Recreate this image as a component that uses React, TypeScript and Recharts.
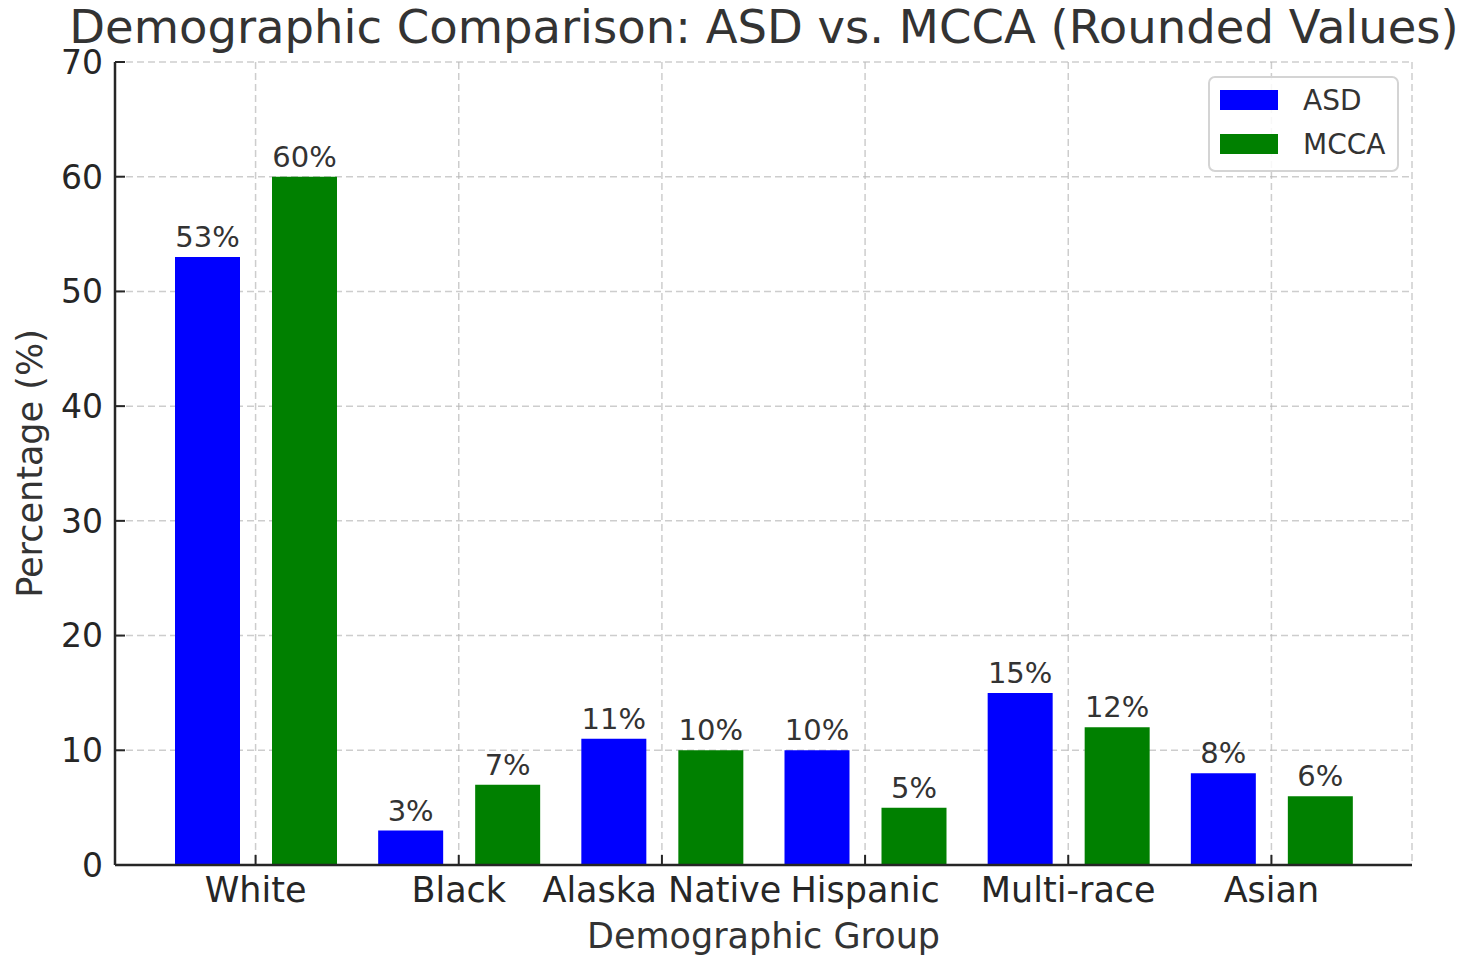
import { Bar, BarChart, CartesianGrid, LabelList, XAxis, YAxis } from "recharts";

const groups = ["White", "Black", "Alaska Native", "Hispanic", "Multi-race", "Asian"];
const asdValues = [53, 3, 11, 10, 15, 8];
const mccaValues = [60, 7, 10, 5, 12, 6];
const yTicks = [0, 10, 20, 30, 40, 50, 60, 70];

const data = groups.map((group, i) => ({ group, ASD: asdValues[i], MCCA: mccaValues[i] }));

const FONT = "'DejaVu Sans', sans-serif";
const TEXT = "#333333";
const AXIS = "#262626";
const Y_TICK_FONT = 33;
const X_TICK_FONT = 35;
const LABEL_FONT = 35;

function YTick(props: any) {
  const { x, y, payload } = props;
  return (
    <g>
      <line x1={x + 12} x2={x + 22} y1={y} y2={y} stroke={AXIS} strokeWidth={2} />
      <text x={x} y={y} dy={Y_TICK_FONT * 0.36} textAnchor="end" fill={AXIS} fontSize={Y_TICK_FONT} fontFamily={FONT}>
        {payload.value}
      </text>
    </g>
  );
}

function XTick(props: any) {
  const { x, y, payload } = props;
  return (
    <g>
      <line x1={x} x2={x} y1={y - 10} y2={y - 20} stroke={AXIS} strokeWidth={2} />
      <text x={x} y={y} dy={X_TICK_FONT * 0.78} textAnchor="middle" fill={AXIS} fontSize={X_TICK_FONT} fontFamily={FONT}>
        {payload.value}
      </text>
    </g>
  );
}

function LegendBox() {
  const items = [
    { label: "ASD", color: "#0000ff" },
    { label: "MCCA", color: "#008000" },
  ];
  return (
    <div
      style={{
        position: "absolute",
        left: 1208,
        top: 76,
        boxSizing: "border-box",
        width: 191,
        height: 96,
        border: "2px solid #d4d4d4",
        borderRadius: 7,
        background: "rgba(255,255,255,0.85)",
        padding: "0 0 0 10px",
      }}
    >
      {items.map((item) => (
        <div key={item.label} style={{ display: "flex", alignItems: "center", height: 44 }}>
          <span style={{ width: 58, height: 20, background: item.color, marginRight: 25 }} />
          <span style={{ fontFamily: FONT, fontSize: 28, color: TEXT }}>{item.label}</span>
        </div>
      ))}
    </div>
  );
}

export default function App() {
  return (
    <div style={{ position: "absolute", left: 0, top: 0, width: 1463, height: 956, background: "#fff" }}>
      <BarChart
        width={1463}
        height={956}
        data={data}
        margin={{ top: 62, right: 51, left: 0, bottom: 0 }}
        barSize={65}
        barGap={32}
      >
        <XAxis
          dataKey="group"
          height={91}
          padding={{ left: 39, right: 39 }}
          tickLine={false}
          tickSize={0}
          tickMargin={10}
          tick={<XTick />}
          interval={0}
          axisLine={{ stroke: AXIS, strokeWidth: 2.5 }}
          label={{
            value: "Demographic Group",
            position: "insideBottom",
            offset: 8,
            fill: TEXT,
            fontSize: LABEL_FONT,
            fontFamily: FONT,
          }}
        />
        <YAxis
          width={115}
          domain={[0, 70]}
          ticks={yTicks}
          interval={0}
          tickLine={false}
          tickSize={0}
          tickMargin={12}
          tick={<YTick />}
          axisLine={{ stroke: AXIS, strokeWidth: 2.5 }}
          label={{
            value: "Percentage (%)",
            position: "insideLeft",
            angle: -90,
            offset: 30,
            fill: TEXT,
            fontSize: LABEL_FONT,
            fontFamily: FONT,
            style: { textAnchor: "middle" },
          }}
        />
        <Bar dataKey="ASD" fill="#0000ff" isAnimationActive={false}>
          <LabelList
            dataKey="ASD"
            position="top"
            offset={10}
            formatter={(v: any) => `${v}%`}
            fill={TEXT}
            fontSize={29}
            fontFamily={FONT}
          />
        </Bar>
        <Bar dataKey="MCCA" fill="#008000" isAnimationActive={false}>
          <LabelList
            dataKey="MCCA"
            position="top"
            offset={10}
            formatter={(v: any) => `${v}%`}
            fill={TEXT}
            fontSize={29}
            fontFamily={FONT}
          />
        </Bar>
        <CartesianGrid stroke="#b8b8b8" strokeOpacity={0.7} strokeWidth={1.5} strokeDasharray="7 4" />
      </BarChart>
      <svg width={1463} height={60} style={{ position: "absolute", left: 0, top: 0 }}>
        <text x={764} y={43} textAnchor="middle" fontFamily={FONT} fontSize={46.5} fill={TEXT}>
          Demographic Comparison: ASD vs. MCCA (Rounded Values)
        </text>
      </svg>
      <LegendBox />
    </div>
  );
}
